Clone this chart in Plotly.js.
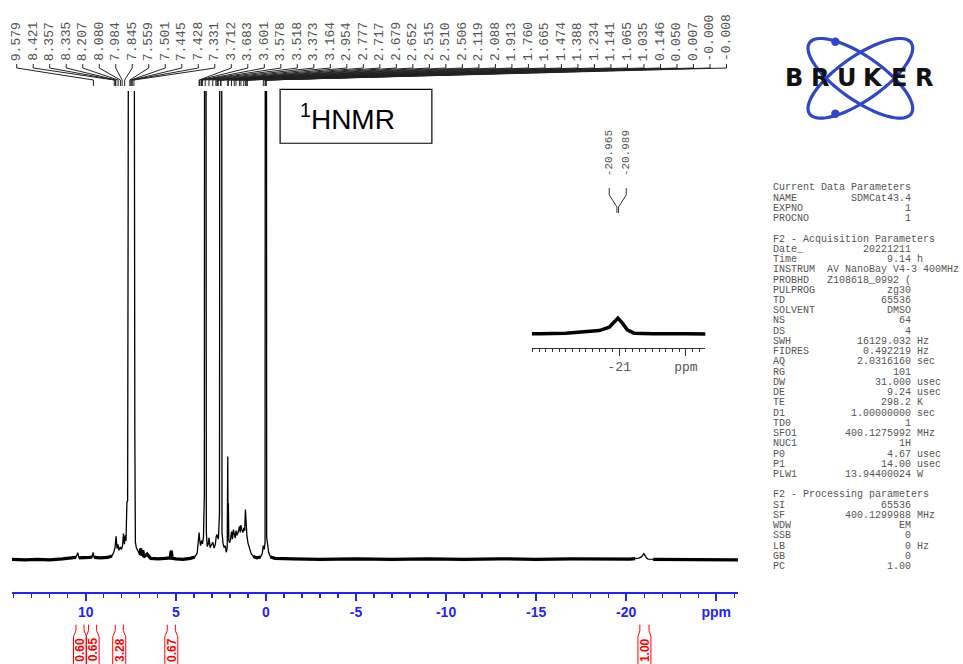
<!DOCTYPE html>
<html><head><meta charset="utf-8">
<script src="https://cdn.plot.ly/plotly-3.0.1.min.js"></script>
<style>html,body{margin:0;padding:0;background:#fff}#chart{width:963px;height:664px}</style>
</head><body><div id="chart"></div>
<script>
// ---------------- DATA ----------------
const ppm = [14.1, 13.4, 12.7, 12.0, 11.3, 10.8, 10.55, 10.45, 10.38, 10.1, 9.8, 9.65, 9.6, 9.54, 9.2, 8.8, 8.55, 8.45, 8.38, 8.32, 8.27, 8.22, 8.16, 8.09, 8.02, 7.96, 7.91, 7.86, 7.81, 7.77, 7.72, 7.68, 7.65, 7.62, 7.58, 7.53, 7.48, 7.43, 7.38, 7.34, 7.31, 7.28, 7.25, 7.2, 7.12, 7.05, 6.98, 6.95, 6.9, 6.84, 6.78, 6.6, 6.4, 6.0, 5.6, 5.32, 5.26, 5.2, 5.0, 4.6, 4.2, 3.95, 3.82, 3.76, 3.71, 3.68, 3.63, 3.58, 3.52, 3.47, 3.42, 3.38, 3.35, 3.31, 3.26, 3.2, 3.16, 3.1, 3.02, 2.95, 2.88, 2.81, 2.76, 2.72, 2.68, 2.64, 2.58, 2.54, 2.51, 2.48, 2.44, 2.38, 2.32, 2.26, 2.2, 2.15, 2.12, 2.1, 2.088, 2.06, 2.02, 1.97, 1.91, 1.86, 1.81, 1.76, 1.71, 1.66, 1.61, 1.55, 1.5, 1.47, 1.43, 1.39, 1.34, 1.28, 1.23, 1.18, 1.14, 1.1, 1.06, 1.0, 0.92, 0.82, 0.7, 0.5, 0.3, 0.2, 0.15, 0.09, 0.05, 0.0, -0.04, -0.09, -0.15, -0.25, -0.5, -1.5, -3, -5, -7, -9, -11, -13, -15, -17, -19, -19.8, -20.2, -20.5, -20.7, -20.85, -20.93, -20.98, -21.05, -21.12, -21.22, -21.5, -22, -23, -24.5, -26.2];
const intensity = [0.3, 0.2, 0.3, 0.2, 0.4, 0.5, 0.7, 1.7, 0.6, 0.6, 0.7, 0.8, 1.8, 0.7, 0.6, 0.7, 1.0, 1.8, 2.8, 5.2, 2.6, 3.5, 2.2, 2.9, 2.4, 3.3, 5.8, 3.5, 5.4, 4.2, 12.4, 12.8, 80, 88, 300, 280, 270, 300, 220, 200, 28, 27, 4, 2.8, 2.2, 1.6, 1.2, 2.6, 1.1, 2.2, 0.8, 1.4, 0.5, 0.4, 0.5, 0.6, 2.1, 0.5, 0.4, 0.3, 0.5, 0.8, 1.6, 3.6, 6.0, 4.4, 3.2, 4.3, 3.6, 5.0, 14, 350, 300, 6, 3.0, 3.6, 4.9, 2.8, 3.4, 3.9, 2.7, 3.5, 5.2, 5.6, 5.0, 4.6, 10, 300, 450, 300, 6, 3.6, 2.8, 3.2, 1.8, 2.8, 22.2, 5.0, 12.3, 4.2, 3.8, 4.4, 6.2, 4.6, 6.6, 5.2, 4.8, 6.4, 5.4, 6.0, 6.6, 7.3, 6.0, 7.6, 6.6, 6.0, 7.0, 6.4, 10.9, 6.0, 5.4, 3.8, 2.6, 1.5, 0.9, 0.6, 0.8, 1.6, 3.2, 2.4, 4.0, 500, 5, 2.8, 1.8, 0.8, 0.5, 0.4, 0.3, 0.4, 0.3, 0.4, 0.3, 0.4, 0.3, 0.4, 0.3, 0.3, 0.35, 0.45, 0.55, 0.8, 1.2, 1.5, 1.1, 0.6, 0.35, 0.3, 0.3, 0.3, 0.2, 0.2];
// flat (noisy) baseline stretches, drawn with a heavier stroke
const baselineRanges = [[14.1, 10.5], [10.4, 9.62], [9.57, 8.5], [7.0, 3.9], [0.8, 0.22], [-0.2, -20.6], [-21.4, -26.2]];

const peakLabels = ['9.579','8.421','8.357','8.335','8.207','8.080','7.984','7.845','7.559','7.501','7.445','7.428','7.331','3.712','3.683','3.601','3.578','3.518','3.373','3.164','2.954','2.777','2.717','2.679','2.652','2.515','2.510','2.506','2.119','2.088','1.913','1.760','1.665','1.474','1.388','1.234','1.141','1.065','1.035','0.146','0.050','0.007','-0.000','-0.008'];
const insetLabels = ['-20.965','-20.989'];

const integralFrom = [10.55, 9.85, 8.37, 5.48, -20.76];
const integralTo = [10.10, 9.40, 7.92, 5.03, -21.27];
const integralValues = ['0.60','0.65','3.28','0.67','1.00'];

const tickVals = [10, 5, 0, -5, -10, -15, -20, -25];
const tickText = ['10', '5', '0', '-5', '-10', '-15', '-20', 'ppm'];
const insetTickVals = [-21, -22];
const insetTickText = ['-21', 'ppm'];

const sectionTitles = ['Current Data Parameters', 'F2 - Acquisition Parameters', 'F2 - Processing parameters'];
const currentParams = [['NAME','SDMCat43.4',''],['EXPNO','1',''],['PROCNO','1','']];
const acqParams = [['Date_','20221211',''],['Time','9.14','h'],['INSTRUM','AV NanoBay V4-3 400MHz',''],['PROBHD','Z108618_0992 (',''],['PULPROG','zg30',''],['TD','65536',''],['SOLVENT','DMSO',''],['NS','64',''],['DS','4',''],['SWH','16129.032','Hz'],['FIDRES','0.492219','Hz'],['AQ','2.0316160','sec'],['RG','101',''],['DW','31.000','usec'],['DE','9.24','usec'],['TE','298.2','K'],['D1','1.00000000','sec'],['TD0','1',''],['SFO1','400.1275992','MHz'],['NUC1','1H',''],['P0','4.67','usec'],['P1','14.00','usec'],['PLW1','13.94400024','W']];
const procParams = [['SI','65536',''],['SF','400.1299988','MHz'],['WDW','EM',''],['SSB','0',''],['LB','0','Hz'],['GB','0',''],['PC','1.00','']];
const logoLetters = ['B','R','U','K','E','R'];

// ---------------- GEOMETRY ----------------
const W = 963, H = 664;
const L = 12, R = 737.7, T = 91, B = 592.3;
const X0 = 14.1, X1 = -26.21;
const YR = [-6.66, 100];
const fx = px => (px - L) / (R - L);
const fy = py => (B - py) / (B - T);
const ppmPx = v => L + (X0 - v) / (X0 - X1) * (R - L);
const IL = 531.7, IR = 705, IT = 310, IB = 347.7, IX0 = -19.69, IX1 = -22.29;
const inPx = v => IL + (IX0 - v) / (IX0 - IX1) * (IR - IL);

// baseline band built from the same spectrum arrays
const bandX = [], bandY = [];
baselineRanges.forEach(([a, b]) => {
  ppm.forEach((p, i) => { if (p <= a && p >= b) { bandX.push(p); bandY.push(intensity[i]); } });
  bandX.push(null); bandY.push(null);
});

const traces = [
  {x: ppm, y: intensity, type: 'scatter', mode: 'lines', line: {color: '#000', width: 1.3}, hoverinfo: 'skip', xaxis: 'x', yaxis: 'y'},
  {x: bandX, y: bandY, type: 'scatter', mode: 'lines', line: {color: '#000', width: 3.2}, connectgaps: false, hoverinfo: 'skip', xaxis: 'x', yaxis: 'y'},
  {x: ppm, y: intensity, type: 'scatter', mode: 'lines', line: {color: '#000', width: 3.5}, hoverinfo: 'skip', xaxis: 'x2', yaxis: 'y2'}
];

const shapes = [];
const annotations = [];
const grey = '#555';

// top peak labels + leaders
let d = '';
peakLabels.forEach((s, i) => {
  const lx = 16.7 + 16.5 * i;
  const pk = ppmPx(parseFloat(s));
  d += `M${fx(lx)},${fy(64)}L${fx(lx)},${fy(68)}L${fx(pk)},${fy(80)}L${fx(pk)},${fy(86)}`;
  annotations.push({text: s, x: fx(lx), y: fy(62), xref: 'paper', yref: 'paper', xanchor: 'center', yanchor: 'bottom', textangle: -90, showarrow: false, borderpad: 0, font: {family: 'Liberation Mono', size: 13, color: grey}});
});
shapes.push({type: 'path', xref: 'paper', yref: 'paper', path: d, line: {color: '#222', width: 1}});

// inset labels + leaders
let d2 = '';
const insetLabelX = [609, 626];
insetLabels.forEach((s, i) => {
  const lx = insetLabelX[i];
  const pk = inPx(parseFloat(s));
  d2 += `M${fx(lx)},${fy(188)}L${fx(lx)},${fy(195)}L${fx(pk)},${fy(207)}L${fx(pk)},${fy(213)}`;
  annotations.push({text: s, x: fx(lx), y: fy(177), xref: 'paper', yref: 'paper', xanchor: 'center', yanchor: 'bottom', textangle: -90, showarrow: false, borderpad: 0, font: {family: 'Liberation Mono', size: 11, color: grey}});
});
shapes.push({type: 'path', xref: 'paper', yref: 'paper', path: d2, line: {color: '#333', width: 1}});

// integrals
let d3 = '';
integralValues.forEach((v, i) => {
  const xa = ppmPx(integralFrom[i]), xb = ppmPx(integralTo[i]);
  const c = (xa + xb) / 2, w = 6.5;
  d3 += `M${fx(xa)},${fy(625)}L${fx(xa)},${fy(631)}L${fx(c - w)},${fy(637)}L${fx(c - w)},${fy(666)}`;
  d3 += `M${fx(xb)},${fy(625)}L${fx(xb)},${fy(631)}L${fx(c + w)},${fy(637)}L${fx(c + w)},${fy(666)}`;
  annotations.push({text: v, x: fx(c), y: fy(650), xref: 'paper', yref: 'paper', xanchor: 'center', yanchor: 'middle', textangle: -90, showarrow: false, borderpad: 0, font: {family: 'Liberation Sans', size: 12, weight: 'bold', color: '#ff0000'}});
});
shapes.push({type: 'path', xref: 'paper', yref: 'paper', path: d3, line: {color: '#ff0000', width: 1}});

// 1HNMR box
shapes.push({type: 'rect', xref: 'paper', yref: 'paper', x0: fx(280), x1: fx(431.7), y0: fy(143.3), y1: fy(89.3), line: {color: '#000', width: 1.2}});
annotations.push({text: '<sup>1</sup>HNMR', x: fx(347), y: fy(117), xref: 'paper', yref: 'paper', xanchor: 'center', yanchor: 'middle', showarrow: false, font: {family: 'Liberation Sans', size: 28, color: '#000'}});

// parameters text
const nb = s => s.replace(/ /g, '\u00a0');
const fmtRow = ([n, v, u]) => {
  let gap = 23 - n.length - v.length;
  if (gap < 2) gap = 9 - n.length;
  return nb(n + ' '.repeat(gap) + v + (u ? ' ' + u : ''));
};
const lines = [sectionTitles[0], ...currentParams.map(fmtRow), '', sectionTitles[1], ...acqParams.map(fmtRow), '', sectionTitles[2], ...procParams.map(fmtRow)];
lines.forEach((s, i) => {
  if (!s) return;
  annotations.push({text: nb(s), x: fx(772), y: fy(188 + 10.24 * i), xref: 'paper', yref: 'paper', xanchor: 'left', yanchor: 'middle', showarrow: false, borderpad: 0, font: {family: 'Liberation Mono', size: 10, color: grey}});
});

// Bruker logo
const orbit = (cx, cy, a, b, th) => {
  let p = '';
  for (let k = 0; k <= 72; k++) {
    const t = k / 72 * 2 * Math.PI;
    const x = cx + a * Math.cos(t) * Math.cos(th) - b * Math.sin(t) * Math.sin(th);
    const y = cy + a * Math.cos(t) * Math.sin(th) + b * Math.sin(t) * Math.cos(th);
    p += (k ? 'L' : 'M') + fx(x) + ',' + fy(y);
  }
  return p + 'Z';
};
const blue = '#2f47c8';
shapes.push({type: 'path', xref: 'paper', yref: 'paper', path: orbit(860, 78.3, 62, 22, 35 * Math.PI / 180), line: {color: blue, width: 3.2}});
shapes.push({type: 'path', xref: 'paper', yref: 'paper', path: orbit(860, 78.3, 62, 22, -35 * Math.PI / 180), line: {color: blue, width: 3.2}});
[[835, 41.7], [835, 113.8]].forEach(([x, y]) => {
  shapes.push({type: 'circle', xref: 'paper', yref: 'paper', x0: fx(x - 4.2), x1: fx(x + 4.2), y0: fy(y + 4.2), y1: fy(y - 4.2), fillcolor: blue, line: {color: blue, width: 0}});
});
const letterX = [793.3, 819.2, 846.7, 872.5, 898.3, 923.3];
logoLetters.forEach((c, i) => {
  annotations.push({text: c, x: fx(letterX[i]), y: fy(78.3), xref: 'paper', yref: 'paper', xanchor: 'center', yanchor: 'middle', showarrow: false, borderpad: 0, font: {family: 'DejaVu Sans', size: 24, weight: 'bold', color: '#111'}});
});

const axBlue = '#2323ff';
const layout = {
  width: W, height: H,
  margin: {l: L, r: W - R, t: T, b: H - B, pad: 0},
  paper_bgcolor: '#fff', plot_bgcolor: 'rgba(0,0,0,0)',
  showlegend: false,
  xaxis: {
    range: [X0, X1], showgrid: false, zeroline: false, showline: true, linecolor: axBlue, linewidth: 1.5,
    ticks: 'outside', ticklen: 7, tickwidth: 1.5, tickcolor: axBlue,
    tickmode: 'array', tickvals: tickVals, ticktext: tickText,
    tickfont: {family: 'Liberation Sans', size: 14, weight: 'bold', color: axBlue},
    minor: {tickmode: 'linear', tick0: 0, dtick: 1, ticks: 'outside', ticklen: 4, tickwidth: 1.2, tickcolor: axBlue},
    fixedrange: true
  },
  yaxis: {range: YR, visible: false, fixedrange: true},
  xaxis2: {
    domain: [fx(IL), fx(IR)], anchor: 'y2', range: [IX0, IX1], showgrid: false, zeroline: false,
    showline: true, linecolor: '#333', linewidth: 1.2, ticks: 'outside', ticklen: 7, tickwidth: 1, tickcolor: '#333',
    tickmode: 'array', tickvals: insetTickVals, ticktext: insetTickText,
    tickfont: {family: 'Liberation Mono', size: 13, color: grey},
    minor: {tickmode: 'linear', tick0: -21, dtick: 0.1, ticks: 'outside', ticklen: 3.5, tickwidth: 1, tickcolor: '#333'},
    fixedrange: true
  },
  yaxis2: {domain: [fy(IB), fy(IT)], anchor: 'x2', range: [-0.75, 2.13], visible: false, fixedrange: true},
  shapes: shapes,
  annotations: annotations
};
Plotly.newPlot('chart', traces, layout, {staticPlot: true, displayModeBar: false});
</script>
</body></html>
